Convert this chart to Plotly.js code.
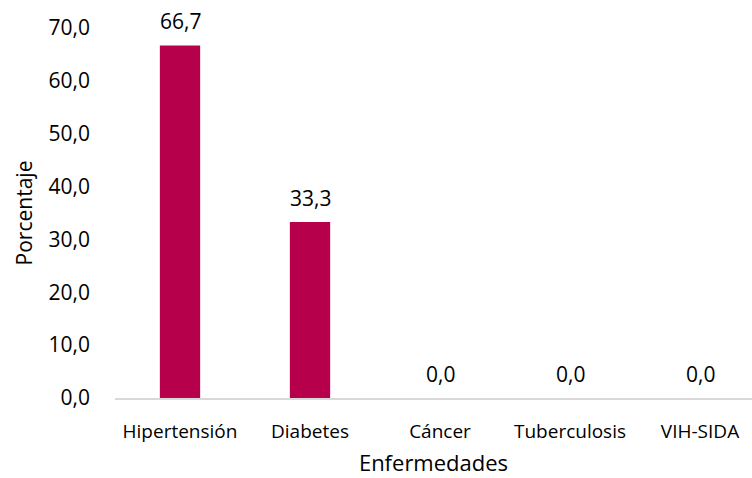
<!DOCTYPE html>
<html><head><meta charset="utf-8">
<script src="https://cdn.plot.ly/plotly-3.0.1.min.js"></script>
<style>body{margin:0;background:#fff}#c{width:752px;height:478px}</style>
</head><body><div id="c"></div>
<script>
const categories = ["Hipertensión","Diabetes","Cáncer","Tuberculosis","VIH-SIDA"];
const values = [66.7, 33.3, 0.0, 0.0, 0.0];
const yTicks = [0,10,20,30,40,50,60,70];
const yTickLabels = ["0,0","10,0","20,0","30,0","40,0","50,0","60,0","70,0"];
const fmt = v => v.toFixed(1).replace(".", ",");
const FONT = "Open Sans, Noto Sans, sans-serif";

const trace = {
  type: "bar", x: categories, y: values,
  marker: {color: "#b7004b"}, hoverinfo: "none"
};
const annotations = categories.map((c, i) => ({
  x: c, y: values[i], xref: "x", yref: "y", text: fmt(values[i]),
  showarrow: false, yanchor: "bottom", yshift: 8,
  font: {family: FONT, size: 21, color: "#000"}
}));
const layout = {
  width: 752, height: 478,
  margin: {l: 115, r: 0, t: 28, b: 80},
  paper_bgcolor: "#fff", plot_bgcolor: "#fff",
  bargap: 0.69, showlegend: false,
  separators: ",.",
  xaxis: {
    type: "category", range: [-0.5, 4.4],
    showline: true, linecolor: "#d9d9d9", linewidth: 2,
    ticks: "", showgrid: false, zeroline: false,
    tickfont: {family: FONT, size: 19, color: "#000"},
    ticklabelstandoff: 15,
    title: {text: "Enfermedades", font: {family: FONT, size: 22, color: "#000"}, standoff: 13}
  },
  yaxis: {
    range: [0, 70], tickvals: yTicks, ticktext: yTickLabels,
    showgrid: false, zeroline: false, showline: false, ticks: "",
    tickfont: {family: FONT, size: 21, color: "#000"},
    ticklabelstandoff: 24,
    title: {text: "Porcentaje", font: {family: FONT, size: 21, color: "#000"}, standoff: 10}
  },
  annotations: annotations
};
Plotly.newPlot("c", [trace], layout, {displayModeBar: false, staticPlot: true});
</script></body></html>
